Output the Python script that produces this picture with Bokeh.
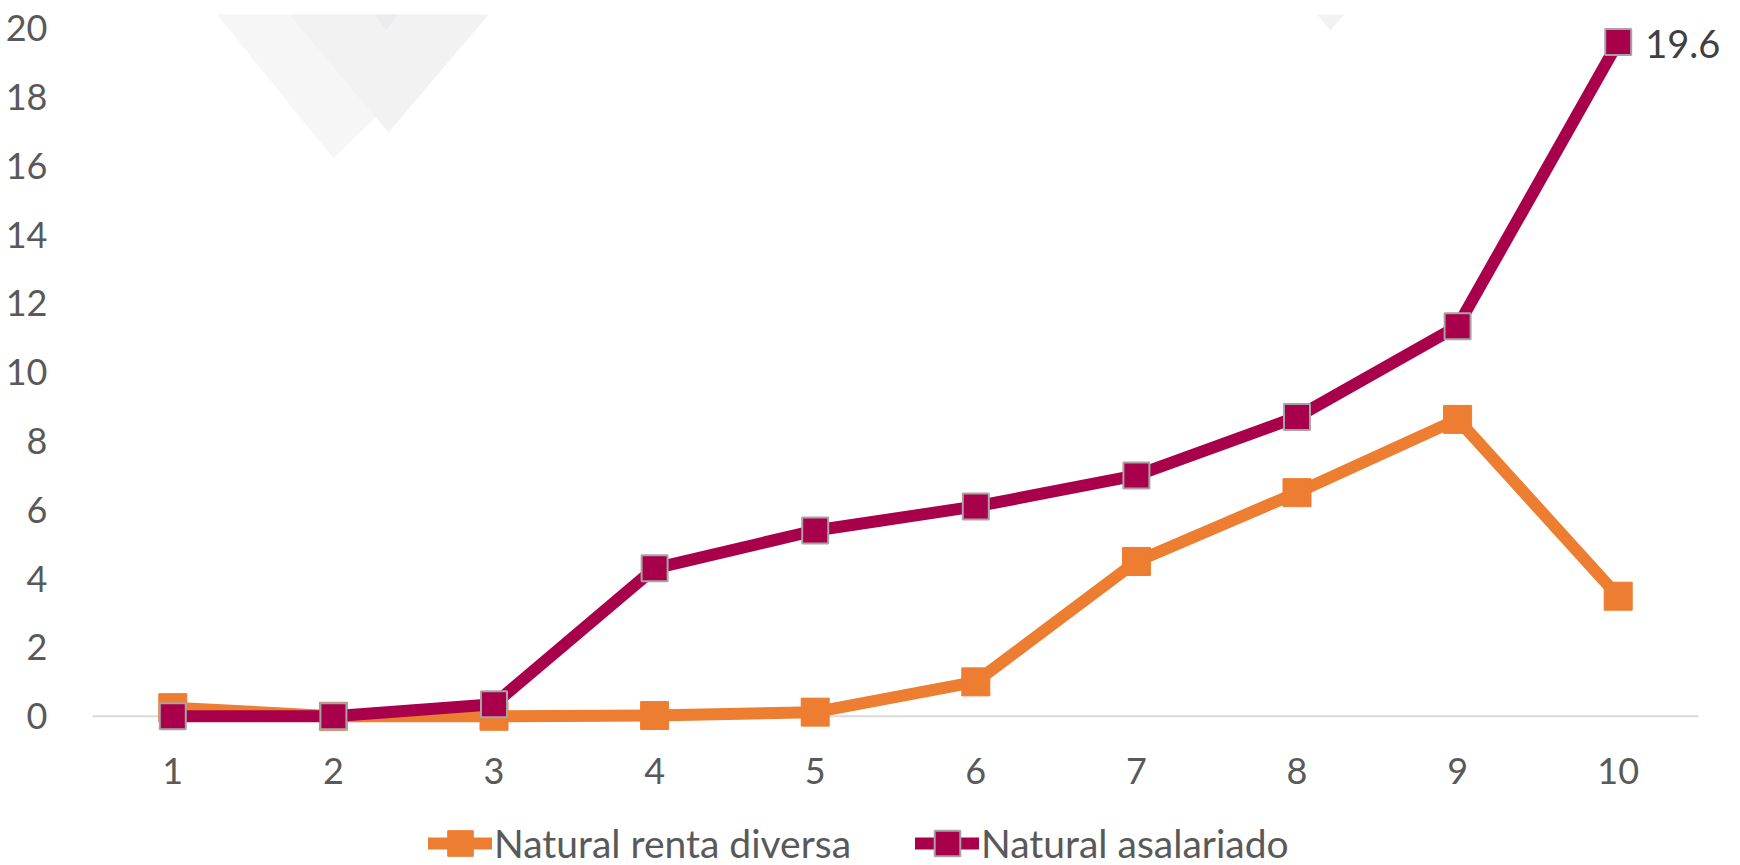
from bokeh.plotting import figure
from bokeh.models import (ColumnDataSource, Legend, LegendItem, LabelSet,
                          FixedTicker, Range1d)
from bokeh.core.properties import value
from bokeh.embed import file_html
from bokeh.resources import INLINE

# ---- data ----
deciles = [1, 2, 3, 4, 5, 6, 7, 8, 9, 10]
x_labels = ["1", "2", "3", "4", "5", "6", "7", "8", "9", "10"]
renta_diversa = [0.25, 0.0, 0.0, 0.02, 0.12, 1.0, 4.5, 6.5, 8.63, 3.49]
asalariado = [0.0, 0.0, 0.35, 4.3, 5.4, 6.1, 7.0, 8.7, 11.34, 19.6]
series_names = ["Natural renta diversa", "Natural asalariado"]
y_ticks = [0, 2, 4, 6, 8, 10, 12, 14, 16, 18, 20]

ORANGE = "#ED7D31"
MAROON = "#A8004A"
FONT = "Lato"
TICK_SIZE = "36px"
TEXT_SIZE = "38px"
LEGEND_SIZE = "39px"

# layout constants (pixels)
LEFT = 92
TOP = 14
FRAME_W = 1648
FRAME_H = 865 - TOP
X_STEP = 160.6          # px per decile
PPU = 34.4              # px per y unit
Y1 = 20.4
Y0 = Y1 - FRAME_H / PPU
X0 = min(deciles) - 0.5
X1 = X0 + FRAME_W / X_STEP

src = ColumnDataSource(dict(x=deciles, a=renta_diversa, b=asalariado))

p = figure(frame_width=FRAME_W, frame_height=FRAME_H, output_backend="svg",
           toolbar_location=None,
           x_range=Range1d(X0, X1), y_range=Range1d(Y0, Y1),
           min_border_left=LEFT, min_border_right=0, min_border_top=TOP,
           min_border_bottom=0)
p.outline_line_color = None
p.background_fill_color = "white"
p.border_fill_color = "white"
p.grid.visible = False
p.xaxis.visible = False

# faint decorative background shapes, given in page pixels of the picture
def px_to_data(xs, ys):
    return ([X0 + (x - LEFT) / X_STEP for x in xs],
            [Y1 - (y - TOP) / PPU for y in ys])

deco = [
    ([205, 333, 494], [0, 158, 0], "#f6f6f7"),
    ([277, 388, 500], [0, 132, 0], "#f2f2f3"),
    ([364, 386, 408], [0, 30, 0], "#ececee"),
    ([1305, 1330, 1356], [0, 30, 0], "#f2f2f3"),
]
for xs, ys, c in deco:
    dx, dy = px_to_data(xs, ys)
    p.patch(dx, dy, fill_color=c, line_color=None, level="underlay")

# zero axis line
p.segment(x0=[X0], y0=[0], x1=[max(deciles) + 0.5], y1=[0],
          line_color="#D9D9D9", line_width=2)

# category labels (drawn in the frame, below the zero line)
p.text(x=deciles, y=[0] * len(deciles), text=x_labels, y_offset=55,
       text_align="center", text_baseline="middle", text_font=value(FONT),
       text_font_size=TICK_SIZE, text_color="#595959")

# y axis
ax = p.yaxis[0]
ax.axis_line_color = None
ax.major_tick_line_color = None
ax.minor_tick_line_color = None
ax.major_label_text_font = FONT
ax.major_label_text_font_size = TICK_SIZE
ax.major_label_text_color = "#595959"
ax.ticker = FixedTicker(ticks=y_ticks)
ax.major_label_standoff = 39

# series
l1 = p.line("x", "a", source=src, line_color=ORANGE, line_width=12,
            line_cap="round", line_join="round")
m1 = p.scatter("x", "a", source=src, marker="square", size=28,
               fill_color=ORANGE, line_color=ORANGE, line_width=1)
l2 = p.line("x", "b", source=src, line_color=MAROON, line_width=12,
            line_cap="round", line_join="round")
m2 = p.scatter("x", "b", source=src, marker="square", size=26,
               fill_color=MAROON, line_color="#A5A5A5", line_width=2)

# data label on last point
last = ColumnDataSource(dict(x=[deciles[-1]], y=[asalariado[-1]],
                             t=["%.1f" % asalariado[-1]]))
p.add_layout(LabelSet(x="x", y="y", text="t", source=last, x_offset=27, y_offset=-2,
                      text_baseline="middle", text_font=value(FONT),
                      text_font_size=TEXT_SIZE, text_color="#404040"))

legend = Legend(items=[LegendItem(label=series_names[0], renderers=[l1, m1]),
                       LegendItem(label=series_names[1], renderers=[l2, m2])],
                orientation="horizontal", location=(336, -13),
                label_text_font=FONT, label_text_font_size=LEGEND_SIZE,
                label_text_color="#595959", glyph_width=64, glyph_height=70,
                label_standoff=2, spacing=64, padding=0, margin=0,
                border_line_color=None, background_fill_alpha=0)
p.add_layout(legend)

open("out.html", "w").write(file_html(p, INLINE))
